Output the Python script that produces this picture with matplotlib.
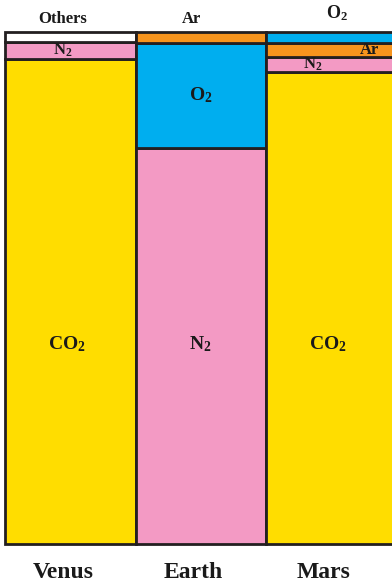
import matplotlib
matplotlib.use('Agg')
import matplotlib.pyplot as plt

plt.rcParams['mathtext.fontset'] = 'custom'
plt.rcParams['mathtext.rm'] = 'Liberation Serif:bold'
plt.rcParams['mathtext.it'] = 'Liberation Serif:bold'
plt.rcParams['mathtext.bf'] = 'Liberation Serif:bold'

planets = ['Venus', 'Earth', 'Mars']

# stacked bottom -> top, percent of atmosphere
venus_gases = ['CO2', 'N2', 'Others']
venus_pct = [94.8, 3.3, 1.9]
earth_gases = ['N2', 'O2', 'Ar']
earth_pct = [77.4, 20.5, 2.1]
mars_gases = ['CO2', 'N2', 'Ar', 'O2']
mars_pct = [92.3, 2.9, 2.8, 2.0]

COLORS = {
    'CO2': '#FFDD00',
    'N2': '#F39AC4',
    'O2': '#00AEEF',
    'Ar': '#F7941D',
    'Others': '#FFFFFF',
}
LABELS = {'CO2': 'CO$_2$', 'N2': 'N$_2$', 'O2': 'O$_2$', 'Ar': 'Ar', 'Others': 'Others'}
EDGE = '#231F20'

fig = plt.figure(figsize=(3.92, 5.86), dpi=100)
ax = fig.add_axes([0.014, 0.0717, 0.996, 0.8729])
ax.set_xlim(-0.5, 2.5)
ax.set_ylim(0, 100)
ax.axis('off')

font = dict(family='Liberation Serif', fontweight='bold', color='#1a1a1a')

# label placement: (x offset, where); 'mid' = big labels share one height
label_pos = {
    (0, 'CO2'): (-0.03, 'mid'), (0, 'N2'): (-0.06, 'in'), (0, 'Others'): (-0.06, 'top'),
    (1, 'N2'): (0.0, 'mid'), (1, 'O2'): (0.0, 'in'), (1, 'Ar'): (-0.07, 'top'),
    (2, 'CO2'): (-0.02, 'mid'), (2, 'N2'): (-0.14, 'in'), (2, 'Ar'): (0.3, 'in'), (2, 'O2'): (0.05, 'top2'),
}

for i, (gases, pct) in enumerate([(venus_gases, venus_pct), (earth_gases, earth_pct), (mars_gases, mars_pct)]):
    bottom = 0
    for g, v in zip(gases, pct):
        ax.bar(i, v, bottom=bottom, width=1.0, color=COLORS[g], edgecolor=EDGE,
               linewidth=2.0, clip_on=False, zorder=2)
        dx, where = label_pos[(i, g)]
        small = v < 5
        if where == 'mid':
            ax.text(i + dx, 39.0, LABELS[g], ha='center', va='center',
                    fontsize=14, zorder=5, **font)
        elif where == 'in':
            ax.text(i + dx, bottom + v / 2, LABELS[g], ha='center', va='center',
                    fontsize=12 if small else 14, zorder=5, **font)
        elif where == 'top':
            ax.text(i + dx, 102.6, LABELS[g], ha='center', va='center',
                    fontsize=12, zorder=5, clip_on=False, **font)
        else:
            ax.text(i + dx, 103.8, LABELS[g], ha='center', va='center',
                    fontsize=13, zorder=5, clip_on=False, **font)
        bottom += v

for i, p in enumerate(planets):
    ax.text(i - 0.055, -5.5, p, ha='center', va='center', fontsize=17, clip_on=False, **font)

fig.savefig('out.png', dpi=100, facecolor='white')
